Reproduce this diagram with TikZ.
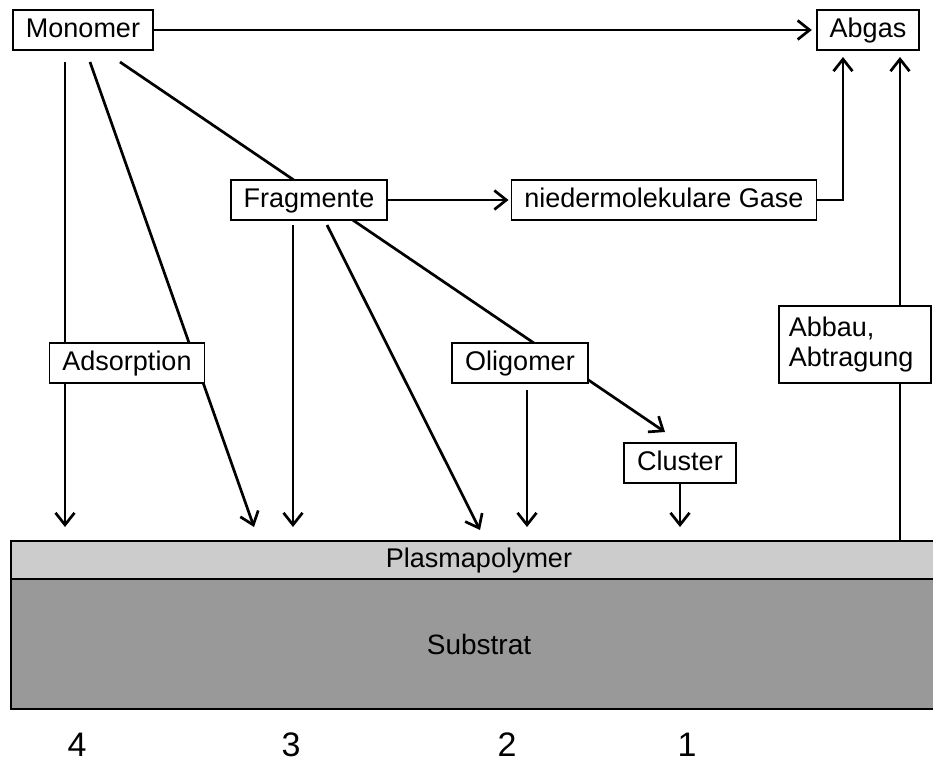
\documentclass[tikz,border=0pt]{standalone}
\usepackage{fontspec}
\setmainfont{Liberation Sans}
\usetikzlibrary{arrows.meta,backgrounds}

\begin{document}
\begin{tikzpicture}[x=0.5pt, y=-0.5pt, font=\fontsize{13.5}{15}\selectfont]
        \tikzstyle{block} = [rectangle, draw, fill=white, line width=0.9pt, inner xsep=6.5pt, minimum height=18pt, text height=10pt, text depth=3pt]
        \tikzstyle{line} = [draw, line width=1.35pt, -{Straight Barb[length=6pt, width=9.5pt]}]
        \tikzstyle{layer} = [rectangle, draw, line width=1pt, minimum width=468pt, anchor=north west]
        \tikzstyle{num} = [font=\fontsize{17}{20}\selectfont, inner sep=1pt]

        \clip (0,0) rectangle (933,762);

        \node [block] (monomer) at (83,30) {Monomer};
        \node [block] (abgas) at (868,30) {Abgas};
        \node [block] (fragmente) at (309,200) {Fragmente};
        \node [block] (gase) at (664,200) {niedermolekulare Gase};
        \node [block] (adsorption) at (127,363) {Adsorption};
        \node [block] (oligomer) at (520,363) {Oligomer};
        \node [block] (cluster) at (680,463) {Cluster};
        \node [rectangle, draw, fill=white, line width=0.9pt, align=left, text width=66pt, inner xsep=5pt, minimum height=38.5pt, anchor=north west] (abbau) at (778,305) {Abbau,\\Abtragung};

        \node [layer, fill=gray!40, minimum height=19pt] (plasma) at (10,540) {Plasmapolymer};
        \node [layer, fill=gray!80, minimum height=65pt, font=\fontsize{14}{16}\selectfont] (substrat) at (10,578) {Substrat};

        \node [num] (n4) at (77,745) {4};
        \node [num] (n3) at (291,745) {3};
        \node [num] (n2) at (507,745) {2};
        \node [num] (n1) at (687,745) {1};

        % start and end points of the free arrows
        \coordinate (m1) at (65,62);
        \coordinate (m2) at (90,62);
        \coordinate (m3) at (120,62);
        \coordinate (f1) at (293,225);
        \coordinate (f2) at (327,225);
        \coordinate (o1) at (527,390);
        \coordinate (t4) at (65,527);
        \coordinate (t4b) at (254,527);
        \coordinate (t3) at (293,527);
        \coordinate (t3b) at (480,530);
        \coordinate (t2) at (527,527);
        \coordinate (t1) at (680,527);
        \coordinate (tc) at (665,432);
        \coordinate (ag1) at (843,57);
        \coordinate (ag2) at (900,57);

        \path [line, shorten >=2pt] (monomer) -- (abgas);
        \path [line, shorten >=1pt] (fragmente) -- (gase);
        \path [line] (gase.east) -| (ag1);
        \path [line] (f1) -- (t3);
        \path [line] (f2) -- (t3b);
        \path [line] (o1) -- (t2);
        \path [line] (cluster) -- (t1);

        \begin{pgfonlayer}{background}
        \path [line] (m1) -- (t4);
        \path [line] (m2) -- (t4b);
        \path [line] (m3) -- (tc);
        \path [line] (plasma.north -| ag2) -- (ag2);
        \end{pgfonlayer}
\end{tikzpicture}
\end{document}
